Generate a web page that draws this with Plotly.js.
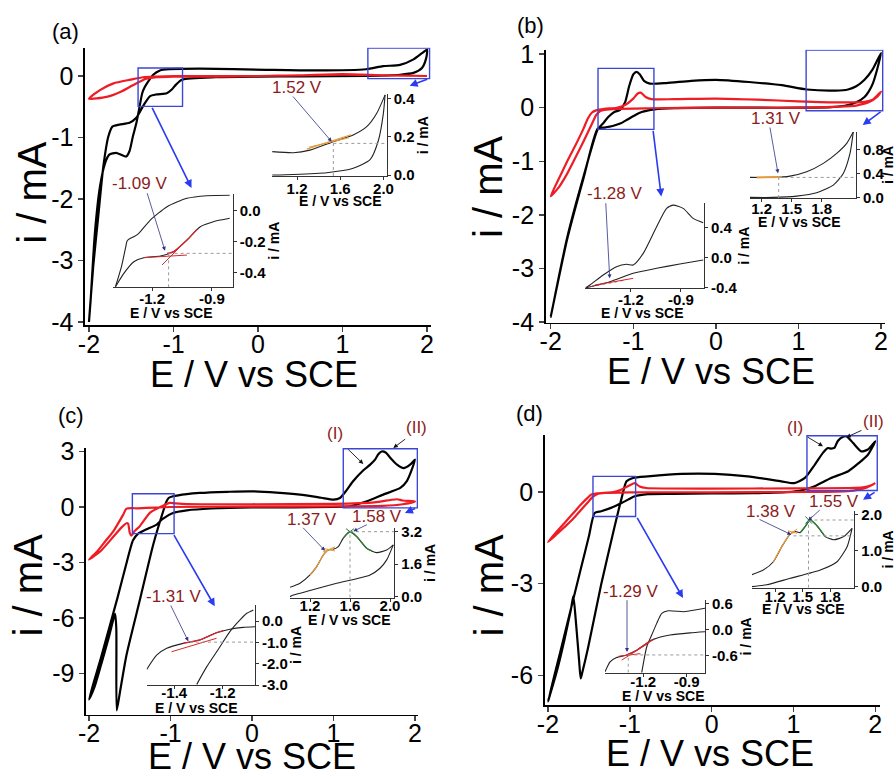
<!DOCTYPE html>
<html><head><meta charset="utf-8">
<script src="https://cdn.plot.ly/plotly-3.0.1.min.js"></script>
<style>html,body{margin:0;padding:0;background:#fff}#chart{width:896px;height:776px}</style>
</head><body><div id="chart"></div>
<script>
// ---------------- DATA ----------------
// Panel (a)
const aBlackE = [0,-0.5,-0.9,-0.97,-1.02,-1.08,-1.2,-1.28,-1.36,-1.44,-1.52,-1.64,-1.72,-1.77,-1.83,-1.89,-1.95,-2.0,-1.98,-1.93,-1.87,-1.81,-1.76,-1.68,-1.62,-1.56,-1.52,-1.48,-1.44,-1.4,-1.37,-1.34,-1.3,-1.24,-1.16,-1.05,-0.69,0.1,0.69,1.28,1.48,1.68,1.84,1.94,2.0,1.99,1.94,1.84,1.68,1.29,0.5,0];
const aBlackI = [-0.01,-0.02,-0.06,-0.14,-0.22,-0.28,-0.3,-0.33,-0.49,-0.68,-0.76,-0.79,-0.82,-0.98,-1.47,-2.28,-3.1,-4.0,-3.64,-2.55,-1.8,-1.42,-1.28,-1.25,-1.28,-1.31,-1.22,-0.98,-0.77,-0.49,-0.28,-0.18,-0.09,0.02,0.09,0.11,0.12,0.1,0.09,0.11,0.16,0.18,0.27,0.37,0.43,0.29,0.13,0.05,0.02,0.0,-0.005,-0.01];
const aRedE = [2.0,1.5,1.0,0.5,0,-0.5,-1.0,-1.2,-1.33,-1.48,-1.63,-1.79,-2.0,-1.87,-1.71,-1.51,-1.36,-1.2,-0.8,0,1.0,1.5,2.0];
const aRedI = [0.0,0.01,0.03,0.01,0.0,-0.01,-0.01,-0.02,-0.05,-0.15,-0.26,-0.34,-0.37,-0.23,-0.12,-0.06,-0.02,-0.01,0.0,0.0,0.02,0.01,0.0];
// Panel (b)
const bBlackE = [0,-0.5,-0.74,-0.9,-0.98,-1.07,-1.15,-1.25,-1.35,-1.43,-1.6,-1.8,-2.0,-1.8,-1.6,-1.43,-1.37,-1.3,-1.23,-1.16,-1.1,-1.05,-1.0,-0.96,-0.92,-0.87,-0.8,-0.6,-0.3,0.0,0.4,0.8,1.1,1.45,1.6,1.7,1.8,1.9,2.0,1.95,1.9,1.85,1.8,1.7,1.6,1.4,1.0,0.5,0];
const bBlackI = [0,-0.01,-0.03,-0.08,-0.14,-0.22,-0.29,-0.34,-0.37,-0.39,-1.3,-2.45,-3.9,-2.42,-1.27,-0.4,-0.3,-0.17,-0.08,-0.04,0.1,0.4,0.62,0.67,0.62,0.5,0.45,0.46,0.5,0.52,0.48,0.42,0.34,0.32,0.34,0.4,0.52,0.72,1.02,0.7,0.45,0.3,0.2,0.1,0.05,0.01,0.0,0.0,0];
const bRedE = [2.0,1.95,1.85,1.7,1.5,1.0,0,-0.8,-1.2,-1.35,-1.4,-1.45,-1.5,-1.6,-1.7,-1.8,-1.9,-2.0,-1.9,-1.8,-1.7,-1.6,-1.55,-1.5,-1.45,-1.35,-1.2,-1.1,-1.0,-0.95,-0.91,-0.85,-0.78,-0.5,0.0,0.5,1.0,1.5,1.8,1.9,2.0];
const bRedI = [0.3,0.2,0.1,0.04,0.02,0.0,0.0,-0.01,-0.02,-0.04,-0.06,-0.14,-0.3,-0.62,-0.93,-1.23,-1.48,-1.65,-1.32,-1.0,-0.7,-0.38,-0.2,-0.09,-0.05,-0.02,0.0,0.05,0.17,0.26,0.28,0.2,0.16,0.16,0.17,0.15,0.12,0.1,0.11,0.15,0.3];
// Panel (c)
const cBlackE = [0,-0.5,-0.8,-0.97,-1.1,-1.17,-1.3,-1.4,-1.46,-1.55,-1.65,-1.75,-1.85,-1.93,-2.0,-1.93,-1.85,-1.76,-1.68,-1.665,-1.66,-1.62,-1.54,-1.38,-1.21,-1.09,-1.05,-1.02,-0.97,-0.8,-0.64,-0.3,-0.03,0.3,0.59,0.85,1.0,1.08,1.16,1.24,1.37,1.45,1.51,1.55,1.59,1.64,1.7,1.78,1.86,1.94,2.0,1.95,1.9,1.82,1.61,1.41,1.2,1.0,0.5,0];
const cBlackI = [-0.02,-0.08,-0.18,-0.32,-0.65,-0.95,-1.22,-1.45,-1.8,-3.2,-4.9,-6.5,-8.1,-9.3,-10.4,-9.7,-8.5,-7.1,-5.78,-6.6,-11.0,-10.0,-8.0,-5.1,-2.0,-0.23,0.3,0.5,0.58,0.7,0.76,0.82,0.85,0.78,0.67,0.5,0.4,0.49,0.9,1.39,2.0,2.29,2.56,2.85,3.0,2.95,2.65,2.29,2.1,2.29,2.56,1.9,1.4,1.03,0.67,0.31,0.04,0.0,-0.02,-0.02];
const cRedE = [2.0,1.85,1.6,1.0,0,-1.0,-1.2,-1.4,-1.54,-1.58,-1.7,-1.8,-1.9,-2.0,-1.85,-1.7,-1.6,-1.54,-1.52,-1.5,-1.48,-1.44,-1.38,-1.25,-1.1,-1.01,-0.95,-0.8,0,1.0,1.5,1.7,1.78,1.85,2.0];
const cRedI = [0.3,0.15,0.06,0.03,0.02,0.0,-0.03,-0.07,-0.09,-0.41,-1.3,-1.85,-2.4,-2.85,-2.35,-1.6,-1.1,-0.88,-0.9,-1.4,-1.55,-1.3,-1.05,-0.3,0.05,0.22,0.2,0.16,0.15,0.17,0.25,0.38,0.42,0.35,0.3];
// Panel (d)
const dBlackE = [0,-0.5,-0.78,-0.94,-1.02,-1.1,-1.23,-1.35,-1.43,-1.5,-1.6,-1.69,-1.8,-1.9,-2.0,-1.9,-1.8,-1.72,-1.69,-1.66,-1.62,-1.6,-1.58,-1.51,-1.35,-1.19,-1.1,-1.04,-0.96,-0.78,-0.37,0.04,0.44,0.85,1.01,1.14,1.26,1.36,1.42,1.46,1.5,1.54,1.6,1.65,1.73,1.83,1.91,2.0,1.91,1.8,1.67,1.46,1.26,1.14,1.0,0.5,0];
const dBlackI = [-0.05,-0.06,-0.07,-0.14,-0.25,-0.36,-0.52,-0.63,-0.69,-1.45,-2.53,-3.5,-4.7,-5.77,-6.85,-5.95,-4.85,-3.85,-3.41,-4.2,-5.5,-6.1,-5.9,-5.1,-3.03,-1.18,-0.2,0.35,0.46,0.51,0.59,0.59,0.51,0.35,0.29,0.46,0.89,1.28,1.44,1.42,1.44,1.66,1.8,1.82,1.6,1.33,1.39,1.66,1.22,0.95,0.68,0.46,0.19,0.08,0.01,-0.04,-0.05];
const dRedE = [2.0,1.9,1.8,1.67,1.2,0,-1.0,-1.3,-1.4,-1.45,-1.5,-1.6,-1.7,-1.8,-1.9,-2.0,-1.9,-1.8,-1.7,-1.6,-1.52,-1.47,-1.4,-1.2,-1.1,-1.0,-0.94,-0.88,-0.8,0,1.0,1.67,1.85,1.95,2.0];
const dRedI = [0.29,0.15,0.08,0.03,0.0,-0.01,-0.01,-0.03,-0.07,-0.15,-0.3,-0.6,-0.9,-1.15,-1.4,-1.64,-1.32,-1.02,-0.72,-0.42,-0.2,-0.08,-0.04,0.0,0.08,0.22,0.29,0.18,0.13,0.11,0.12,0.13,0.15,0.22,0.29];

// Insets: (a) cathodic window
const a1UpE = [-1.384,-1.354,-1.334,-1.325,-1.309,-1.292,-1.267,-1.209,-1.125,-1.025,-0.925,-0.81];
const a1UpI = [-0.49,-0.361,-0.243,-0.194,-0.178,-0.168,-0.146,-0.06,0.026,0.08,0.097,0.10];
const a1LoE = [-1.384,-1.342,-1.292,-1.242,-1.158,-1.092,-1.025,-0.958,-0.892,-0.81];
const a1LoI = [-0.49,-0.404,-0.329,-0.303,-0.292,-0.264,-0.189,-0.103,-0.071,-0.049];
const a1HiE = [-1.125,-1.092,-1.025,-0.975]; const a1HiI = [-0.275,-0.264,-0.189,-0.12];
const a1TanAE = [-1.242,-1.025]; const a1TanAI = [-0.303,-0.286];
const a1TanBE = [-1.15,-0.975];  const a1TanBI = [-0.35,-0.125];
const a1Onset = [-1.117,-0.275];
// (a) anodic window
const a2UpE = [0.966,1.166,1.32,1.536,1.72,1.845,1.938,2.015];
const a2UpI = [0.122,0.116,0.13,0.174,0.209,0.252,0.322,0.418];
const a2LoE = [2.015,1.999,1.953,1.876,1.72,1.475,1.166,0.966];
const a2LoI = [0.418,0.32,0.18,0.08,0.035,0.012,0.003,0.0];
const a2TanAE = [1.29,1.70]; const a2TanAI = [0.135,0.21];
const a2TanBE = [1.31,1.68]; const a2TanBI = [0.145,0.195];
const a2Onset = [1.536,0.165];
// (b) cathodic window
const b1UpE = [-1.47,-1.445,-1.366,-1.286,-1.226,-1.186,-1.126,-1.046,-0.986,-0.947,-0.887,-0.827,-0.767];
const b1UpI = [-0.40,-0.364,-0.231,-0.12,-0.088,-0.097,0.058,0.413,0.658,0.702,0.658,0.525,0.467];
const b1LoE = [-1.47,-1.326,-1.186,-1.046,-0.907,-0.767];
const b1LoI = [-0.40,-0.32,-0.208,-0.141,-0.084,-0.031];
const b1TanAE = [-1.416,-1.186]; const b1TanAI = [-0.364,-0.275];
const b1TanBE = [-1.44,-1.24];  const b1TanBI = [-0.385,-0.30];
// (b) anodic window
const b2UpE = [1.083,1.316,1.483,1.65,1.816,1.95,2.05,2.116];
const b2UpI = [0.333,0.333,0.355,0.427,0.567,0.733,0.9,1.093];
const b2LoE = [2.116,2.083,2.016,1.916,1.75,1.55,1.316,1.083];
const b2LoI = [1.093,0.733,0.4,0.205,0.077,0.022,0.0,0.0];
const b2HiE = [1.15,1.40]; const b2HiI = [0.333,0.338];
const b2Onset = [1.37,0.333];
// (c) cathodic window
const c1AE = [-1.514,-1.473,-1.431,-1.363,-1.294,-1.225,-1.17,-1.115,-1.066];
const c1AI = [-2.27,-1.6,-1.28,-1.05,-0.89,-0.55,-0.39,-0.3,-0.27];
const c1BE = [-1.307,-1.266,-1.211,-1.17,-1.128,-1.1,-1.073];
const c1BI = [-2.97,-2.15,-1.21,-0.5,0.05,0.36,0.52];
const c1HiE = [-1.363,-1.294,-1.225,-1.197]; const c1HiI = [-1.05,-0.89,-0.55,-0.45];
const c1TanE = [-1.411,-1.225]; const c1TanI = [-1.44,-0.81];
const c1Onset = [-1.335,-0.99];
// (c) anodic window
const c2UpE = [1.0,1.1,1.2,1.267,1.333,1.383,1.433,1.483,1.533,1.6,1.667,1.767,1.867,1.967,2.033];
const c2UpI = [0.46,0.66,1.07,1.48,2.05,2.3,2.33,2.46,2.88,3.2,2.96,2.38,2.17,2.3,2.55];
const c2LoE = [2.033,1.967,1.9,1.8,1.467,1.2,1.033,1.0];
const c2LoI = [2.55,1.81,1.4,1.07,0.66,0.3,0.08,0.0];
const c2OrE = [1.2,1.267,1.333,1.383,1.433]; const c2OrI = [1.07,1.48,2.05,2.3,2.33];
const c2OrXE = [1.33,1.45]; const c2OrXI = [2.2,2.45];
const c2OrYE = [1.33,1.45]; const c2OrYI = [2.38,2.25];
const c2GrE = [1.533,1.6,1.667,1.767,1.82]; const c2GrI = [2.88,3.2,2.96,2.38,2.25];
const c2GrXE = [1.56,1.64]; const c2GrXI = [3.05,3.35];
const c2GrYE = [1.56,1.64]; const c2GrYI = [3.35,3.05];
const c2Peak = [1.6,3.2];
// (d) cathodic window
const d1AE = [-1.465,-1.43,-1.385,-1.315,-1.246,-1.176,-1.13,-1.015,-0.877,-0.773];
const d1AI = [-0.98,-0.75,-0.65,-0.59,-0.48,-0.32,-0.23,-0.13,-0.08,-0.055];
const d1BE = [-1.211,-1.176,-1.142,-1.107,-1.072,-1.027,-0.923,-0.877,-0.773];
const d1BI = [-1.0,-0.4,-0.13,0.14,0.37,0.43,0.41,0.43,0.49];
const d1HiE = [-1.315,-1.246,-1.176,-1.13]; const d1HiI = [-0.59,-0.48,-0.32,-0.23];
const d1TanAE = [-1.35,-1.165]; const d1TanAI = [-0.71,-0.32];
const d1TanBE = [-1.37,-1.22];  const d1TanBI = [-0.62,-0.56];
const d1Onset = [-1.304,-0.59];
// (d) anodic window
const d2UpE = [0.946,1.073,1.182,1.273,1.364,1.418,1.473,1.527,1.582,1.655,1.745,1.836,1.945,2.036];
const d2UpI = [0.33,0.46,0.69,1.11,1.46,1.53,1.5,1.67,1.85,1.69,1.39,1.3,1.39,1.62];
const d2LoE = [2.036,1.982,1.873,1.691,1.364,1.109,0.946];
const d2LoI = [1.62,1.11,0.69,0.46,0.23,0.05,0.0];
const d2OrE = [1.182,1.273,1.364,1.418]; const d2OrI = [0.69,1.11,1.46,1.53];
const d2OrXE = [1.34,1.44]; const d2OrXI = [1.42,1.6];
const d2OrYE = [1.34,1.44]; const d2OrYI = [1.55,1.48];
const d2GrE = [1.473,1.527,1.582,1.655,1.745]; const d2GrI = [1.5,1.67,1.85,1.69,1.39];
const d2GrXE = [1.53,1.6]; const d2GrXI = [1.75,1.95];
const d2GrYE = [1.53,1.6]; const d2GrYI = [1.95,1.75];
const d2Peak = [1.563,1.85]; const d2Shoulder = [1.40,1.41];

// Tick values and labels
const mainXTickVals = [-2,-1,0,1,2];
const mainXTickText = ['-2','-1','0','1','2'];
const aYTickVals = [0,-1,-2,-3,-4]; const aYTickText = ['0','-1','-2','-3','-4'];
const bYTickVals = [1,0,-1,-2,-3,-4]; const bYTickText = ['1','0','-1','-2','-3','-4'];
const cYTickVals = [3,0,-3,-6,-9]; const cYTickText = ['3','0','-3','-6','-9'];
const dYTickVals = [0,-3,-6]; const dYTickText = ['0','-3','-6'];
const a1XT = [-1.2,-0.9], a1XL = ['-1.2','-0.9'], a1YT = [0,-0.2,-0.4], a1YL = ['0.0','-0.2','-0.4'];
const a2XT = [1.2,1.6,2.0], a2XL = ['1.2','1.6','2.0'], a2YT = [0,0.2,0.4], a2YL = ['0.0','0.2','0.4'];
const b1XT = [-1.2,-0.9], b1XL = ['-1.2','-0.9'], b1YT = [-0.4,0,0.4], b1YL = ['-0.4','0.0','0.4'];
const b2XT = [1.2,1.5,1.8], b2XL = ['1.2','1.5','1.8'], b2YT = [0,0.4,0.8], b2YL = ['0.0','0.4','0.8'];
const c1XT = [-1.4,-1.2], c1XL = ['-1.4','-1.2'], c1YT = [0,-1,-2,-3], c1YL = ['0.0','-1.0','-2.0','-3.0'];
const c2XT = [1.2,1.6,2.0], c2XL = ['1.2','1.6','2.0'], c2YT = [0,1.6,3.2], c2YL = ['0.0','1.6','3.2'];
const d1XT = [-1.2,-0.9], d1XL = ['-1.2','-0.9'], d1YT = [-0.6,0,0.6], d1YL = ['-0.6','0.0','0.6'];
const d2XT = [1.2,1.5,1.8], d2XL = ['1.2','1.5','1.8'], d2YT = [0,1,2], d2YL = ['0.0','1.0','2.0'];

// Texts
const panelLabels = ['(a)','(b)','(c)','(d)'];
const xTitle = 'E / V vs SCE', yTitle = 'i / mA';
const onsetLabels = ['-1.09 V','1.52 V','-1.28 V','1.31 V','-1.31 V','1.37 V','1.58 V','-1.29 V','1.38 V','1.55 V'];
const peakLabels = ['(I)','(II)','(I)','(II)'];

// ---------------- LAYOUT / STYLE ----------------
const FONT = 'Liberation Sans, Arial, Helvetica, sans-serif';
const W = 896, H = 776;
const PX = v => v / W;
const PY = v => 1 - v / H;
const BLACK = '#000000', RED = '#ee1c24', ORANGE = '#e39a3c', GREEN = '#2f7d32', THINRED = '#d7262b';
const BLUE = '#2b3bf0', BOX = '#3b46d6', NAVY = '#2e3184', LABEL = '#8c1c1c', GUIDE = '#9a9a9a';

const mainGeom = [
  {dx:[85,431],     dy:[47.7,325],  xr:[-2.047,2.047],  yr:[-4.049,0.46],  yt:[aYTickVals,aYTickText], xt:[254,374], yl:[31.7,192]},
  {dx:[545.7,885],  dy:[49.7,322.7],xr:[-2.0605,2.048], yr:[-4.01,1.082],  yt:[bYTickVals,bYTickText], xt:[711.3,371], yl:[487.3,186.7]},
  {dx:[86,418],     dy:[448,714.7], xr:[-2.037,2.037],  yr:[-11.23,3.19],  yt:[cYTickVals,cYTickText], xt:[251.7,756], yl:[27.7,584.7]},
  {dx:[544.7,879.7],dy:[435,705.3], xr:[-2.04,2.054],   yr:[-6.98,1.865],  yt:[dYTickVals,dYTickText], xt:[709.7,753.5], yl:[488.8,584.7]},
];
const insetGeom = [
  {dx:[113.3,232.7], dy:[194.3,287.3], xr:[-1.395,-0.795], yr:[-0.494,0.106], xt:[a1XT,a1XL], yt:[a1YT,a1YL], tt:[170.8,313.3], ls:-5},
  {dx:[272.3,386.7], dy:[94.3,176],    xr:[0.971,2.03],    yr:[-0.005,0.421], xt:[a2XT,a2XL], yt:[a2YT,a2YL], tt:[340,200.8], ls:-4},
  {dx:[585,704],     dy:[203,288.3],   xr:[-1.475,-0.762], yr:[-0.408,0.73],  xt:[b1XT,b1XL], yt:[b1YT,b1YL], tt:[642.3,313.3], ls:-5},
  {dx:[750,856],     dy:[132,198],     xr:[1.083,2.143],   yr:[-0.01,1.09],   xt:[b2XT,b2XL], yt:[b2YT,b2YL], tt:[798.5,222.5], ls:-6},
  {dx:[146.7,255],   dy:[605,685],     xr:[-1.514,-1.066], yr:[-3.0,0.75],    xt:[c1XT,c1XL], yt:[c1YT,c1YL], tt:[196,707.5], ls:-9},
  {dx:[290,394.3],   dy:[528,597.7],   xr:[1.0,2.043],     yr:[-0.05,3.38],   xt:[c2XT,c2XL], yt:[c2YT,c2YL], tt:[349,619.7], ls:-9},
  {dx:[605,705],     dy:[600,672.7],   xr:[-1.465,-0.773], yr:[-1.0,0.68],    xt:[d1XT,d1XL], yt:[d1YT,d1YL], tt:[662.5,696.3], ls:-8},
  {dx:[752,854.3],   dy:[511,587.7],   xr:[0.95,2.06],     yr:[-0.03,2.1],    xt:[d2XT,d2XL], yt:[d2YT,d2YL], tt:[803,609], ls:-8},
];

const layout = {
  width: W, height: H, margin: {l:0, r:0, t:0, b:0},
  paper_bgcolor: '#ffffff', plot_bgcolor: 'rgba(0,0,0,0)',
  showlegend: false, hovermode: false,
  font: {family: FONT, color: '#000'},
  shapes: [], annotations: []
};

function axName(kind, n) { return kind + 'axis' + (n === 1 ? '' : n); }
function axRef(kind, n) { return kind + (n === 1 ? '' : n); }

function txt(s, x, y, size, color, angle, weight) {
  layout.annotations.push({text: s, x: PX(x), y: PY(y), xref: 'paper', yref: 'paper', showarrow: false,
    xanchor: 'center', yanchor: 'middle', textangle: angle || 0, borderpad: 0,
    font: {family: FONT, size: size, color: color, weight: weight || 'normal'}});
}

mainGeom.forEach((g, i) => {
  const n = i + 1;
  layout[axName('x', n)] = {
    domain: [PX(g.dx[0]), PX(g.dx[1])], range: g.xr, anchor: axRef('y', n),
    showline: true, linewidth: 1.6, linecolor: '#000', mirror: false,
    showgrid: false, zeroline: false, ticks: 'outside', ticklen: 5, tickwidth: 1.5,
    tickmode: 'array', tickvals: mainXTickVals, ticktext: mainXTickText, ticklabelstandoff: -9,
    tickfont: {family: FONT, size: 25, color: '#000'}
  };
  layout[axName('y', n)] = {
    domain: [PY(g.dy[1]), PY(g.dy[0])], range: g.yr, anchor: axRef('x', n),
    showline: true, linewidth: 1.6, linecolor: '#000', mirror: false,
    showgrid: false, zeroline: false, ticks: 'outside', ticklen: 5, tickwidth: 1.5,
    tickmode: 'array', tickvals: g.yt[0], ticktext: g.yt[1],
    tickfont: {family: FONT, size: 25, color: '#000'}
  };
  // axis titles (placed as paper text so they sit exactly where the figure has them)
  txt(xTitle, g.xt[0], g.xt[1], 36, '#000');
  txt(yTitle, g.yl[0], g.yl[1], 40, '#000', -90);
});
insetGeom.forEach((g, i) => {
  const n = i + 5;
  layout[axName('x', n)] = {
    domain: [PX(g.dx[0]), PX(g.dx[1])], range: g.xr, anchor: axRef('y', n),
    showline: true, linewidth: 1, linecolor: '#333', showgrid: false, zeroline: false,
    ticks: 'outside', ticklen: 3, tickwidth: 1, tickcolor: '#333',
    tickmode: 'array', tickvals: g.xt[0], ticktext: g.xt[1], ticklabelstandoff: g.ls,
    tickfont: {family: FONT, size: 15, color: '#000', weight: 'bold'}
  };
  layout[axName('y', n)] = {
    domain: [PY(g.dy[1]), PY(g.dy[0])], range: g.yr, anchor: axRef('x', n), side: 'right',
    showline: true, linewidth: 1, linecolor: '#333', showgrid: false, zeroline: false,
    ticks: 'outside', ticklen: 3, tickwidth: 1, tickcolor: '#333',
    tickmode: 'array', tickvals: g.yt[0], ticktext: g.yt[1],
    tickfont: {family: FONT, size: 15, color: '#000', weight: 'bold'},
    title: {text: yTitle, font: {family: FONT, size: 14, color: '#000', weight: 'bold'}, standoff: 2}
  };
  txt(xTitle, g.tt[0], g.tt[1], 14, '#000', 0, 'bold');
});

// ---------------- TRACES ----------------
const traces = [];
function tr(x, y, n, color, width, shape, dash) {
  traces.push({type: 'scatter', mode: 'lines', x: x, y: y,
    xaxis: axRef('x', n), yaxis: axRef('y', n),
    line: {color: color, width: width, shape: shape || 'spline', smoothing: 0.6, dash: dash || 'solid'},
    hoverinfo: 'skip'});
}
// main CVs
tr(aBlackE, aBlackI, 1, BLACK, 2.2); tr(aRedE, aRedI, 1, RED, 2.2);
tr(bBlackE, bBlackI, 2, BLACK, 2.2); tr(bRedE, bRedI, 2, RED, 2.2);
tr(cBlackE, cBlackI, 3, BLACK, 2.2); tr(cRedE, cRedI, 3, RED, 2.2);
tr(dBlackE, dBlackI, 4, BLACK, 2.2); tr(dRedE, dRedI, 4, RED, 2.2);
// inset (a) cathodic
tr(a1UpE, a1UpI, 5, '#222', 1.1); tr(a1LoE, a1LoI, 5, '#222', 1.1);
tr(a1HiE, a1HiI, 5, THINRED, 1.3); tr(a1TanAE, a1TanAI, 5, THINRED, 1, 'linear'); tr(a1TanBE, a1TanBI, 5, THINRED, 1, 'linear');
// inset (a) anodic
tr(a2UpE, a2UpI, 6, '#222', 1.1); tr(a2LoE, a2LoI, 6, '#222', 1.1);
tr(a2TanAE, a2TanAI, 6, ORANGE, 1.2, 'linear'); tr(a2TanBE, a2TanBI, 6, ORANGE, 1.2, 'linear');
// inset (b) cathodic
tr(b1UpE, b1UpI, 7, '#222', 1.1); tr(b1LoE, b1LoI, 7, '#222', 1.1);
tr(b1TanAE, b1TanAI, 7, THINRED, 1, 'linear'); tr(b1TanBE, b1TanBI, 7, THINRED, 1, 'linear', 'dot');
// inset (b) anodic
tr(b2UpE, b2UpI, 8, '#222', 1.1); tr(b2LoE, b2LoI, 8, '#222', 1.1);
tr(b2HiE, b2HiI, 8, ORANGE, 2, 'linear');
// inset (c) cathodic
tr(c1AE, c1AI, 9, '#222', 1.1); tr(c1BE, c1BI, 9, '#222', 1.1);
tr(c1HiE, c1HiI, 9, THINRED, 1.3); tr(c1TanE, c1TanI, 9, THINRED, 1, 'linear');
// inset (c) anodic
tr(c2UpE, c2UpI, 10, '#222', 1.1); tr(c2LoE, c2LoI, 10, '#222', 1.1);
tr(c2OrE, c2OrI, 10, ORANGE, 1.3); tr(c2OrXE, c2OrXI, 10, ORANGE, 1, 'linear'); tr(c2OrYE, c2OrYI, 10, ORANGE, 1, 'linear');
tr(c2GrE, c2GrI, 10, GREEN, 1.3); tr(c2GrXE, c2GrXI, 10, GREEN, 1, 'linear'); tr(c2GrYE, c2GrYI, 10, GREEN, 1, 'linear');
// inset (d) cathodic
tr(d1AE, d1AI, 11, '#222', 1.1); tr(d1BE, d1BI, 11, '#222', 1.1);
tr(d1HiE, d1HiI, 11, THINRED, 1.3); tr(d1TanAE, d1TanAI, 11, THINRED, 1, 'linear'); tr(d1TanBE, d1TanBI, 11, THINRED, 1, 'linear');
// inset (d) anodic
tr(d2UpE, d2UpI, 12, '#222', 1.1); tr(d2LoE, d2LoI, 12, '#222', 1.1);
tr(d2OrE, d2OrI, 12, ORANGE, 1.3); tr(d2OrXE, d2OrXI, 12, ORANGE, 1, 'linear'); tr(d2OrYE, d2OrYI, 12, ORANGE, 1, 'linear');
tr(d2GrE, d2GrI, 12, GREEN, 1.3); tr(d2GrXE, d2GrXI, 12, GREEN, 1, 'linear'); tr(d2GrYE, d2GrYI, 12, GREEN, 1, 'linear');

// ---------------- SHAPES: zoom boxes and guide lines ----------------
function box(n, x0, x1, y0, y1) {
  layout.shapes.push({type: 'rect', xref: axRef('x', n), yref: axRef('y', n), x0: x0, x1: x1, y0: y0, y1: y1,
    line: {color: BOX, width: 1.4}, fillcolor: 'rgba(0,0,0,0)'});
}
box(1, -1.419, -0.893, -0.494, 0.13);  box(1, 1.30, 2.03, -0.043, 0.456);
box(2, -1.427, -0.75, -0.404, 0.733);  box(2, 1.093, 2.02, -0.056, 1.075);
box(3, -1.468, -0.956, -1.44, 0.72);   box(3, 1.12, 2.029, -0.05, 3.15);
box(4, -1.45, -0.929, -0.8, 0.51);     box(4, 1.165, 2.024, 0.05, 1.84);

function guide(n, x0, y0, x1, y1) {
  layout.shapes.push({type: 'line', xref: axRef('x', n), yref: axRef('y', n), x0: x0, y0: y0, x1: x1, y1: y1,
    line: {color: GUIDE, width: 1, dash: 'dot'}});
}
function onsetGuides(n, pt, g) {
  guide(n, pt[0], g.yr[0], pt[0], pt[1]);
  guide(n, pt[0], pt[1], g.xr[1], pt[1]);
}
onsetGuides(5, a1Onset, insetGeom[0]);
onsetGuides(6, a2Onset, insetGeom[1]);
onsetGuides(8, b2Onset, insetGeom[3]);
guide(9, c1Onset[0], c1Onset[1], insetGeom[4].xr[1], c1Onset[1]);
onsetGuides(10, c2Peak, insetGeom[5]);
onsetGuides(11, d1Onset, insetGeom[6]);
onsetGuides(12, d2Peak, insetGeom[7]);
guide(12, d2Shoulder[0], d2Shoulder[1], insetGeom[7].xr[1], d2Shoulder[1]);

// ---------------- ANNOTATIONS ----------------
function parrow(tx, ty, hx, hy, color, width, size) {
  layout.annotations.push({text: '', x: PX(hx), y: PY(hy), xref: 'paper', yref: 'paper',
    ax: tx - hx, ay: ty - hy, axref: 'pixel', ayref: 'pixel', showarrow: true,
    arrowhead: 2, arrowsize: size || 1, arrowwidth: width || 0.8, arrowcolor: color || NAVY});
}
function darrow(n, tx, ty, hx, hy) {
  layout.annotations.push({text: '', x: hx, y: hy, xref: axRef('x', n), yref: axRef('y', n),
    ax: tx, ay: ty, axref: axRef('x', n), ayref: axRef('y', n), showarrow: true,
    arrowhead: 2, arrowsize: 1, arrowwidth: 1.6, arrowcolor: BLUE});
}
// panel letters
txt(panelLabels[0], 65, 31.7, 22, '#000');
txt(panelLabels[1], 530.3, 25.7, 22, '#000');
txt(panelLabels[2], 70.7, 415.3, 22, '#000');
txt(panelLabels[3], 529.7, 413.7, 22, '#000');
// blue zoom arrows
darrow(1, -1.261, -0.494, -0.787, -1.82); darrow(1, 2.02, -0.043, 1.794, -0.157);
darrow(2, -0.762, -0.404, -0.661, -1.658); darrow(2, 2.012, -0.056, 1.778, -0.323);
darrow(3, -0.968, -1.44, -0.457, -5.37); darrow(3, 2.02, -0.05, 1.877, -0.32);
darrow(4, -0.92, -0.8, -0.35, -3.47); darrow(4, 2.01, 0.02, 1.85, -0.25);
// onset labels + pointers
txt(onsetLabels[0], 139, 183.3, 17, LABEL);  parrow(146.7, 191.7, 165, 250.7);
txt(onsetLabels[1], 297.3, 87.3, 17, LABEL); parrow(291.7, 95, 331.7, 141.7);
txt(onsetLabels[2], 614.7, 193.3, 17, LABEL); parrow(605.7, 201.7, 609.7, 278.3);
txt(onsetLabels[3], 776.3, 118.3, 17, LABEL); parrow(769.7, 126, 778, 173.3);
txt(onsetLabels[4], 173.3, 596.3, 17, LABEL); parrow(170, 604, 188.3, 641.3);
txt(onsetLabels[5], 312.3, 519.7, 17, LABEL); parrow(301.7, 526.3, 325, 550.7);
txt(onsetLabels[6], 377.3, 516.3, 17, LABEL); parrow(368.3, 524, 353.3, 531.3);
txt(onsetLabels[7], 630.3, 591.3, 17, LABEL); parrow(627, 598.7, 627, 652);
txt(onsetLabels[8], 771.3, 511.3, 17, LABEL); parrow(758, 518.7, 791.3, 534.7);
txt(onsetLabels[9], 833.7, 501.3, 17, LABEL); parrow(821.3, 508.7, 808, 520.7);
// peak labels
txt(peakLabels[0], 335, 433.7, 17, LABEL); parrow(346.7, 448, 363.3, 464, '#111', 0.9);
txt(peakLabels[1], 416.7, 427.3, 17, LABEL); parrow(406.7, 438, 393.3, 448, '#111', 0.9);
txt(peakLabels[2], 794.7, 427, 17, LABEL); parrow(806.3, 436.3, 823, 446.3, '#111', 0.9);
txt(peakLabels[3], 873, 422, 17, LABEL); parrow(863, 429.7, 846.3, 437.3, '#111', 0.9);

Plotly.newPlot('chart', traces, layout, {staticPlot: true, displayModeBar: false});
</script></body></html>
